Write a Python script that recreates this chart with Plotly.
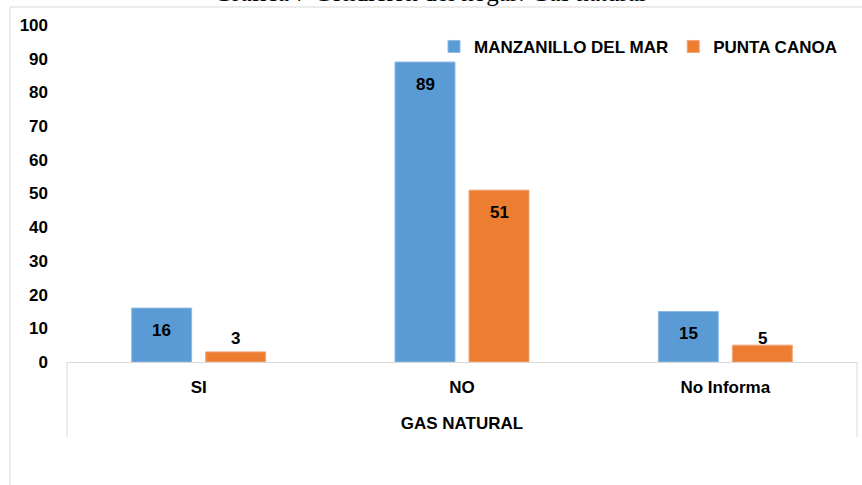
import plotly.graph_objects as go

categories = ["SI", "NO", "No Informa"]
manzanillo = [16, 89, 15]
punta_canoa = [3, 51, 5]
series_names = ["MANZANILLO DEL MAR", "PUNTA CANOA"]
y_ticks = [0, 10, 20, 30, 40, 50, 60, 70, 80, 90, 100]
axis_title = "GAS NATURAL"
chart_title = "Gráfica 7 Condición del hogar: Gas natural"

BLUE = "#5B9BD5"
ORANGE = "#ED7D31"
FONT = "Liberation Sans, Arial, sans-serif"
FS = 17

fig = go.Figure()
fig.add_trace(go.Bar(x=categories, y=manzanillo, name=series_names[0],
                     marker=dict(color=BLUE, line=dict(color="#8DB9E4", width=1))))
fig.add_trace(go.Bar(x=categories, y=punta_canoa, name=series_names[1],
                     marker=dict(color=ORANGE, line=dict(color="#F2A57A", width=1))))

W, H = 862, 485
ml, mr, mt, mb = 67, 5, 25, 123
pw = W - ml - mr
ph = H - mt - mb

# value labels: Excel "inside end" style
for vals, shift in ((manzanillo, -37), (punta_canoa, 37)):
    for c, v in zip(categories, vals):
        big = v >= 10
        fig.add_annotation(x=c, y=v if big else 0, xref="x", yref="y",
                           text=str(v), showarrow=False,
                           xshift=shift, yshift=-11 if big else 12,
                           yanchor="top" if big else "bottom",
                           font=dict(family=FONT, size=FS, color="black", weight="bold"))

# chart title, cut off at the top edge as in the reference
fig.add_annotation(text=chart_title, xref="paper", yref="paper",
                   x=(430 - ml) / pw, xanchor="center",
                   y=1 + (mt + 8) / ph, yanchor="middle", showarrow=False,
                   font=dict(family="Liberation Serif, Times New Roman, serif", size=25,
                             color="black", weight="normal"))
# outer chart border
fig.add_shape(type="rect", xref="paper", yref="paper",
              x0=(10 - ml) / pw, x1=1.2, y0=-1.0, y1=1 + (mt - 7) / ph,
              line=dict(color="#D9D9D9", width=1), fillcolor="rgba(0,0,0,0)", layer="below")
# category axis dividers
for xp in (0, 1):
    fig.add_shape(type="line", xref="paper", yref="paper",
                  x0=xp, x1=xp, y0=0, y1=-(437 - 362) / ph,
                  line=dict(color="#D9D9D9", width=1))

fig.update_layout(
    width=W, height=H,
    margin=dict(l=ml, r=mr, t=mt, b=mb),
    paper_bgcolor="white", plot_bgcolor="white",
    barmode="group", bargap=0.438, bargroupgap=0.19,
    font=dict(family=FONT, size=FS, color="black", weight="bold"),
    legend=dict(orientation="h", x=0.981, xanchor="right", y=0.935, yanchor="middle",
                font=dict(family=FONT, size=FS, color="black", weight="bold"),
                bgcolor="rgba(0,0,0,0)", itemwidth=30),
    showlegend=True,
)
fig.update_xaxes(showline=True, linecolor="#D9D9D9", linewidth=1, showgrid=False,
                 ticks="", ticklabelstandoff=10,
                 title=dict(text=axis_title, standoff=20,
                            font=dict(family=FONT, size=FS, color="black", weight="bold")),
                 tickfont=dict(family=FONT, size=FS, color="black", weight="bold"))
fig.update_yaxes(range=[0, 100], tickvals=y_ticks, showline=False, showgrid=False,
                 zeroline=False, ticks="", ticklabelstandoff=18,
                 tickfont=dict(family=FONT, size=FS, color="black", weight="bold"))

fig.write_html("out.html", config={"displayModeBar": False},
               post_script="document.body.style.margin='0';")
